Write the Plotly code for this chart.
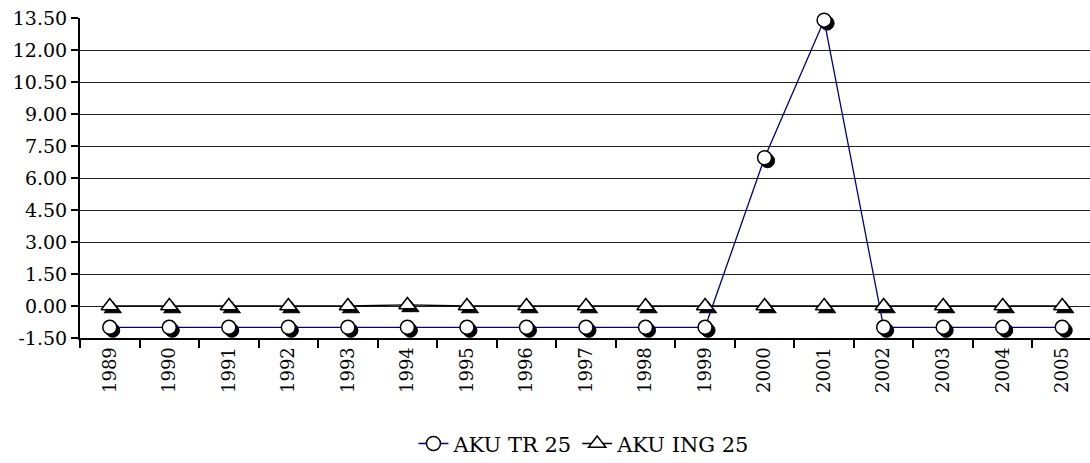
import plotly.graph_objects as go

years = ["1989", "1990", "1991", "1992", "1993", "1994", "1995", "1996", "1997",
         "1998", "1999", "2000", "2001", "2002", "2003", "2004", "2005"]
aku_tr_25 = [-1.0, -1.0, -1.0, -1.0, -1.0, -1.0, -1.0, -1.0, -1.0, -1.0, -1.0,
             6.95, 13.4, -1.0, -1.0, -1.0, -1.0]
aku_ing_25 = [0.0, 0.0, 0.0, 0.0, 0.0, 0.05, 0.0, 0.0, 0.0, 0.0, 0.0,
              0.0, 0.0, 0.0, 0.0, 0.0, 0.0]
y_ticks = [-1.5, 0, 1.5, 3, 4.5, 6, 7.5, 9, 10.5, 12, 13.5]

FONT = "DejaVu Serif"
W, H = 1095, 463
L, R, T, B = 80, 0, 18, 122
pw, ph = W - L - R, H - T - B
dx, dy = 3 / pw, 3 / ph

fig = go.Figure()

# shadows (hidden axes xy, shifted down-right)
fig.add_trace(go.Scatter(x=years, y=aku_tr_25, mode="markers", xaxis="x", yaxis="y",
                         marker=dict(symbol="circle", size=14, color="black",
                                     line=dict(color="black", width=1)),
                         cliponaxis=False, showlegend=False, hoverinfo="skip"))
fig.add_trace(go.Scatter(x=years, y=aku_ing_25, mode="markers", xaxis="x", yaxis="y",
                         marker=dict(symbol="triangle-up", size=15, color="black",
                                     line=dict(color="black", width=1)),
                         cliponaxis=False, showlegend=False, hoverinfo="skip"))

# main traces
fig.add_trace(go.Scatter(x=years, y=aku_tr_25, name="AKU TR 25", mode="lines+markers",
                         xaxis="x2", yaxis="y2", cliponaxis=False,
                         line=dict(color="#000080", width=1.3),
                         marker=dict(symbol="circle", size=14, color="white",
                                     line=dict(color="black", width=1.5))))
fig.add_trace(go.Scatter(x=years, y=aku_ing_25, name="AKU ING 25", mode="lines+markers",
                         xaxis="x2", yaxis="y2", cliponaxis=False,
                         line=dict(color="black", width=1.3),
                         marker=dict(symbol="triangle-up", size=15, color="white",
                                     line=dict(color="black", width=1.5))))

yr = [-1.5, 13.5005]
fig.update_layout(
    width=W, height=H,
    margin=dict(l=L, r=R, t=T, b=B, pad=0, autoexpand=False),
    paper_bgcolor="white", plot_bgcolor="rgba(0,0,0,0)",
    font=dict(family=FONT, size=19, color="black"),
    showlegend=True,
    legend=dict(orientation="h", x=0.497, xanchor="center", y=-0.255, yanchor="top",
                font=dict(family=FONT, size=21, color="black"),
                itemwidth=30, tracegroupgap=0, bgcolor="rgba(0,0,0,0)"),
    xaxis=dict(type="category", domain=[dx, 1], range=[-0.5, 16.5], visible=False,
               anchor="y"),
    yaxis=dict(domain=[0, 1 - dy], range=yr, visible=False, anchor="x"),
    xaxis2=dict(type="category", domain=[0, 1 - dx], range=[-0.5, 16.5], anchor="y2",
                showline=True, linecolor="black", linewidth=2,
                ticks="outside", ticklen=8, tickwidth=2, tickcolor="black",
                tickson="boundaries", tickangle=-90, showgrid=False,
                tickfont=dict(family=FONT, size=18, color="black")),
    yaxis2=dict(domain=[dy, 1], range=yr, anchor="x2",
                tickvals=y_ticks, ticktext=[f"{v:.2f}" for v in y_ticks],
                showline=True, linecolor="black", linewidth=2,
                ticks="outside", ticklen=7, tickwidth=2, tickcolor="black",
                showgrid=True, gridcolor="#222222", gridwidth=1, zeroline=False,
                tickfont=dict(family=FONT, size=19, color="black")),
)

fig.write_html("out.html", config={"displayModeBar": False},
               post_script="document.body.style.margin='0px';"
                           "document.body.style.overflow='hidden';")
